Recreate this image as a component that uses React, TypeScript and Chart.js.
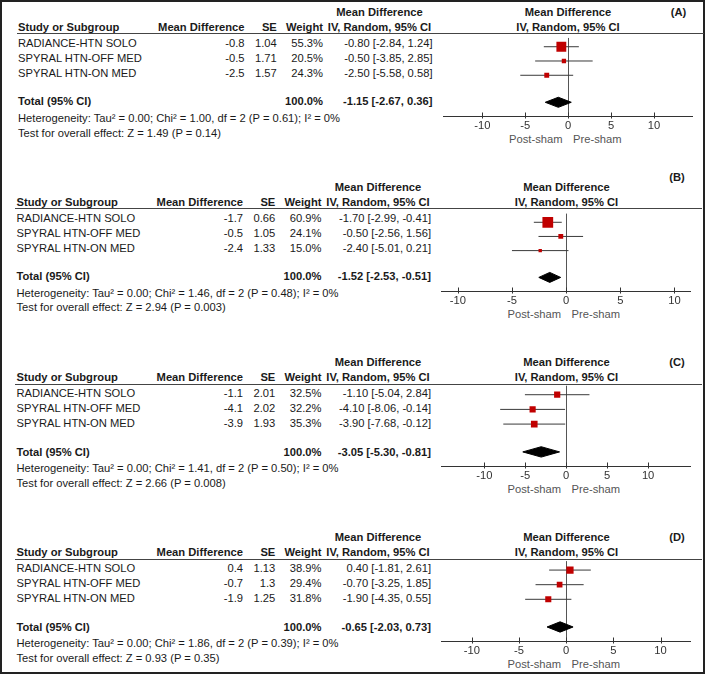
import React, { useEffect, useRef } from "react";
import { Chart, registerables } from "chart.js";

Chart.register(...registerables);

// ---------- DATA ----------
const STUDIES = ["RADIANCE-HTN SOLO", "SPYRAL HTN-OFF MED", "SPYRAL HTN-ON MED"];
const PANEL_LABELS = ["(A)", "(B)", "(C)", "(D)"];
const AXIS_TICKS = [-10, -5, 0, 5, 10];
const LEFT_LABEL = "Post-sham";
const RIGHT_LABEL = "Pre-sham";

const MD_A = [-0.8, -0.5, -2.5];
const SE_A = [1.04, 1.71, 1.57];
const W_A = [55.3, 20.5, 24.3];
const LO_A = [-2.84, -3.85, -5.58];
const HI_A = [1.24, 2.85, 0.58];
const TOTAL_A = [-1.15, -2.67, 0.36];
const HET_A = "Heterogeneity: Tau² = 0.00; Chi² = 1.00, df = 2 (P = 0.61); I² = 0%";
const TEST_A = "Test for overall effect: Z = 1.49 (P = 0.14)";

const MD_B = [-1.7, -0.5, -2.4];
const SE_B = [0.66, 1.05, 1.33];
const W_B = [60.9, 24.1, 15.0];
const LO_B = [-2.99, -2.56, -5.01];
const HI_B = [-0.41, 1.56, 0.21];
const TOTAL_B = [-1.52, -2.53, -0.51];
const HET_B = "Heterogeneity: Tau² = 0.00; Chi² = 1.46, df = 2 (P = 0.48); I² = 0%";
const TEST_B = "Test for overall effect: Z = 2.94 (P = 0.003)";

const MD_C = [-1.1, -4.1, -3.9];
const SE_C = [2.01, 2.02, 1.93];
const W_C = [32.5, 32.2, 35.3];
const LO_C = [-5.04, -8.06, -7.68];
const HI_C = [2.84, -0.14, -0.12];
const TOTAL_C = [-3.05, -5.3, -0.81];
const HET_C = "Heterogeneity: Tau² = 0.00; Chi² = 1.41, df = 2 (P = 0.50); I² = 0%";
const TEST_C = "Test for overall effect: Z = 2.66 (P = 0.008)";

const MD_D = [0.4, -0.7, -1.9];
const SE_D = [1.13, 1.3, 1.25];
const W_D = [38.9, 29.4, 31.8];
const LO_D = [-1.81, -3.25, -4.35];
const HI_D = [2.61, 1.85, 0.55];
const TOTAL_D = [-0.65, -2.03, 0.73];
const HET_D = "Heterogeneity: Tau² = 0.00; Chi² = 1.86, df = 2 (P = 0.39); I² = 0%";
const TEST_D = "Test for overall effect: Z = 0.93 (P = 0.35)";

// axis half-range of each panel (axis setting)
const AXIS_LIMITS = [14.5, 11.5, 15.2, 13.2];

const PANELS = [
  { md: MD_A, se: SE_A, w: W_A, lo: LO_A, hi: HI_A, total: TOTAL_A, het: HET_A, test: TEST_A },
  { md: MD_B, se: SE_B, w: W_B, lo: LO_B, hi: HI_B, total: TOTAL_B, het: HET_B, test: TEST_B },
  { md: MD_C, se: SE_C, w: W_C, lo: LO_C, hi: HI_C, total: TOTAL_C, het: HET_C, test: TEST_C },
  { md: MD_D, se: SE_D, w: W_D, lo: LO_D, hi: HI_D, total: TOTAL_D, het: HET_D, test: TEST_D },
];

// ---------- LAYOUT ----------
const PANEL_U = [33.7, 208.5, 384, 559]; // y of header underline
const PANEL_DX = [1.5, 0, 0, 0];
const LABEL_DY = [-22, -31.5, -22, -22];
const FONT = "'Liberation Sans', Arial, sans-serif";
const FS = 11.2;
const ROW_PX = 15;
const FIRST_ROW = 9.2;
const TOTAL_ROW_PX = 67.6;
const AXIS_PX = 82;
const ROW_TOTAL = 1 + (TOTAL_ROW_PX - FIRST_ROW) / ROW_PX;
const Y_MIN = 1 - FIRST_ROW / ROW_PX;
const Y_MAX = 1 + (AXIS_PX - FIRST_ROW) / ROW_PX;

const CANVAS_LEFT = 430;
const CANVAS_W = 274;
const CANVAS_H = 105;

const tickMarks = {
  id: "tickMarks",
  afterDraw(chart: any) {
    const s = chart.scales.x;
    const ctx = chart.ctx;
    const y = chart.chartArea.bottom;
    ctx.save();
    ctx.strokeStyle = "#333";
    ctx.lineWidth = 1;
    ctx.beginPath();
    s.ticks.forEach((t: any) => {
      const x = Math.round(s.getPixelForValue(t.value)) + 0.5;
      ctx.moveTo(x, y - 3.5);
      ctx.lineTo(x, y + 2.5);
    });
    ctx.stroke();
    ctx.restore();
  },
};

function Forest({ idx }: { idx: number }) {
  const ref = useRef<HTMLCanvasElement | null>(null);
  const p = PANELS[idx];
  const lim = AXIS_LIMITS[idx];
  useEffect(() => {
    if (!ref.current) return;
    const ciSets = p.md.map((_, i) => ({
      data: [
        { x: p.lo[i], y: i + 1 },
        { x: p.hi[i], y: i + 1 },
      ],
      showLine: true,
      borderColor: "#3a3a3a",
      borderWidth: 1,
      pointRadius: 0,
      order: 2,
    }));
    const h = 5.3 / ROW_PX;
    const [est, tlo, thi] = p.total;
    const diamond = {
      data: [
        { x: tlo, y: ROW_TOTAL },
        { x: est, y: ROW_TOTAL - h },
        { x: thi, y: ROW_TOTAL },
        { x: est, y: ROW_TOTAL + h },
        { x: tlo, y: ROW_TOTAL },
      ],
      showLine: true,
      fill: "shape",
      backgroundColor: "#000",
      borderColor: "#000",
      borderWidth: 1,
      pointRadius: 0,
      tension: 0,
      order: 1,
    };
    const squares = {
      data: p.md.map((m, i) => ({ x: m, y: i + 1 })),
      pointStyle: "rect",
      pointRadius: p.w.map((w) => (0.16 * w + 1) / Math.SQRT2),
      backgroundColor: "#c00000",
      borderWidth: 0,
      showLine: false,
      order: 0,
    };
    const chart = new Chart(ref.current, {
      type: "scatter",
      data: { datasets: [squares, diamond, ...ciSets] as any },
      options: {
        animation: false,
        responsive: false,
        events: [],
        layout: { padding: { left: 11.7, right: 13.3, top: 3, bottom: 0 } },
        plugins: { legend: { display: false }, tooltip: { enabled: false } },
        scales: {
          x: {
            type: "linear",
            min: -lim,
            max: lim,
            afterBuildTicks: (scale: any) => {
              scale.ticks = AXIS_TICKS.map((v) => ({ value: v }));
            },
            afterFit: (scale: any) => {
              scale.height = 20;
            },
            grid: {
              drawOnChartArea: true,
              drawTicks: false,
              color: (c: any) => (c.tick && c.tick.value === 0 ? "#555" : "rgba(0,0,0,0)"),
              lineWidth: 1,
            },
            border: { display: true, color: "#333", width: 1 },
            ticks: {
              padding: 3,
              color: "#333",
              font: { family: FONT, size: FS },
              maxRotation: 0,
            },
          },
          y: {
            type: "linear",
            display: false,
            min: Y_MIN,
            max: Y_MAX,
            reverse: true,
          },
        },
      },
      plugins: [tickMarks],
    } as any);
    return () => chart.destroy();
  }, [idx]);
  return (
    <canvas
      ref={ref}
      width={CANVAS_W}
      height={CANVAS_H}
      style={{
        position: "absolute",
        left: CANVAS_LEFT + PANEL_DX[idx],
        top: PANEL_U[idx] - 3,
        width: CANVAS_W,
        height: CANVAS_H,
      }}
    />
  );
}

function T({
  x,
  y,
  align = "left",
  bold = false,
  color = "#1a1a1a",
  children,
}: {
  x: number;
  y: number;
  align?: "left" | "right" | "center";
  bold?: boolean;
  color?: string;
  children: any;
}) {
  const base: any = {
    position: "absolute",
    top: y - 7,
    height: 14,
    lineHeight: "14px",
    whiteSpace: "nowrap",
    fontFamily: FONT,
    fontSize: FS,
    fontWeight: bold ? "bold" : "normal",
    color,
  };
  if (align === "left") base.left = x;
  else if (align === "right") {
    base.left = x - 300;
    base.width = 300;
    base.textAlign = "right";
  } else {
    base.left = x - 150;
    base.width = 300;
    base.textAlign = "center";
  }
  return <div style={base}>{children}</div>;
}

function Panel({ idx }: { idx: number }) {
  const p = PANELS[idx];
  const U = PANEL_U[idx];
  const dx = PANEL_DX[idx];
  const xName = 16.5 + dx;
  const xMD = 243 + dx;
  const xSE = 275.3 + dx;
  const xW = 321.5 + dx;
  const xCI = 431 + dx;
  const xCIc = 378 + dx;
  const xPlot = 566.5 + dx;
  const fmtCI = (m: number, l: number, h: number) =>
    `${m.toFixed(2)} [${l.toFixed(2)}, ${h.toFixed(2)}]`;
  return (
    <>
      <T x={xCIc} y={U - 22} align="center" bold>Mean Difference</T>
      <T x={xPlot} y={U - 22} align="center" bold>Mean Difference</T>
      <T x={677 + dx} y={U + LABEL_DY[idx]} align="center" bold>{PANEL_LABELS[idx]}</T>
      <T x={xName} y={U - 7} bold>Study or Subgroup</T>
      <T x={xMD} y={U - 7} align="right" bold>Mean Difference</T>
      <T x={xSE} y={U - 7} align="right" bold>SE</T>
      <T x={xW} y={U - 7} align="right" bold>Weight</T>
      <T x={xCIc} y={U - 7} align="center" bold>IV, Random, 95% CI</T>
      <T x={xPlot} y={U - 7} align="center" bold>IV, Random, 95% CI</T>
      <div
        style={{
          position: "absolute",
          left: 15 + dx,
          top: U - 0.5,
          width: 687,
          height: 1,
          background: "#444",
        }}
      />
      {STUDIES.map((s, i) => {
        const y = U + FIRST_ROW + ROW_PX * i;
        return (
          <React.Fragment key={s}>
            <T x={xName} y={y}>{s}</T>
            <T x={xMD} y={y} align="right">{String(p.md[i])}</T>
            <T x={xSE} y={y} align="right">{String(p.se[i])}</T>
            <T x={xW} y={y} align="right">{p.w[i].toFixed(1) + "%"}</T>
            <T x={xCI} y={y} align="right">{fmtCI(p.md[i], p.lo[i], p.hi[i])}</T>
          </React.Fragment>
        );
      })}
      <T x={xName} y={U + TOTAL_ROW_PX} bold>Total (95% CI)</T>
      <T x={xW} y={U + TOTAL_ROW_PX} align="right" bold>100.0%</T>
      <T x={xCI} y={U + TOTAL_ROW_PX} align="right" bold>
        {fmtCI(p.total[0], p.total[1], p.total[2])}
      </T>
      <T x={xName} y={U + 84.3}>{p.het}</T>
      <T x={xName} y={U + 98.8}>{p.test}</T>
      <T x={xPlot - 5.5} y={U + 105} align="right" color="#555">{LEFT_LABEL}</T>
      <T x={xPlot + 5} y={U + 105} color="#555">{RIGHT_LABEL}</T>
      <Forest idx={idx} />
    </>
  );
}

export default function App() {
  return (
    <div
      style={{
        position: "absolute",
        left: 0,
        top: 0,
        width: 709,
        height: 675,
        background: "#fff",
        overflow: "hidden",
      }}
    >
      <div
        style={{
          position: "absolute",
          left: 0,
          top: 0,
          width: 705,
          height: 674,
          border: "2px solid #222",
          boxSizing: "border-box",
        }}
      />
      {PANELS.map((_, i) => (
        <Panel key={i} idx={i} />
      ))}
    </div>
  );
}
